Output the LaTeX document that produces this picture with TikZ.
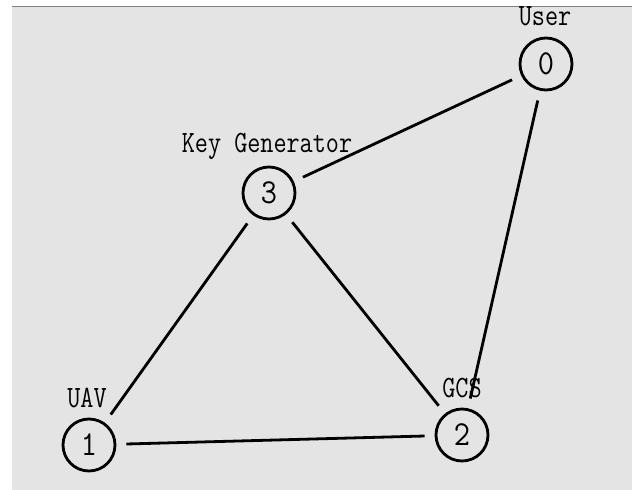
\documentclass[tikz,border=0pt]{standalone}
\definecolor{bg}{HTML}{E4E4E4}
\newcommand{\lbltext}[1]{\scalebox{0.82}[1]{\ttfamily\fontsize{31}{31}\selectfont #1}}
\newcommand{\vtxtext}[1]{\scalebox{0.9}[1]{\ttfamily\fontsize{35}{35}\selectfont #1}}
\begin{document}
\begin{tikzpicture}[x=1pt,y=-1pt,
  vtx/.style={circle,draw,line width=2.8pt,minimum size=52pt,inner sep=0pt},
  lbl/.style={inner sep=0pt,anchor=base},
  edge/.style={line width=2.8pt,shorten >=10pt,shorten <=10pt}]
\useasboundingbox (0,0) rectangle (632,490);
\fill[bg] (12,7) rectangle (632,490);
\draw[gray,line width=1.6pt] (12,6.5) -- (632,6.5);
\node[vtx] (n0) at (546,64) {\vtxtext{0}};
\node[vtx] (n3) at (269,193) {\vtxtext{3}};
\node[vtx] (n1) at (89,445) {\vtxtext{1}};
\node[vtx] (n2) at (462,435) {\vtxtext{2}};
\node[lbl] (l0) at (545,25) {\lbltext{User}};
\node[lbl] (l3) at (267,152) {\lbltext{Key Generator}};
\node[lbl] (l1) at (87,407) {\lbltext{UAV}};
\node[lbl] (l2) at (462,397) {\lbltext{GCS}};
\draw[edge] (n3) -- (n0);
\draw[edge] (n0) -- (n2);
\draw[edge] (n3) -- (n1);
\draw[edge] (n3) -- (n2);
\draw[edge] (n1) -- (n2);
\end{tikzpicture}
\end{document}
